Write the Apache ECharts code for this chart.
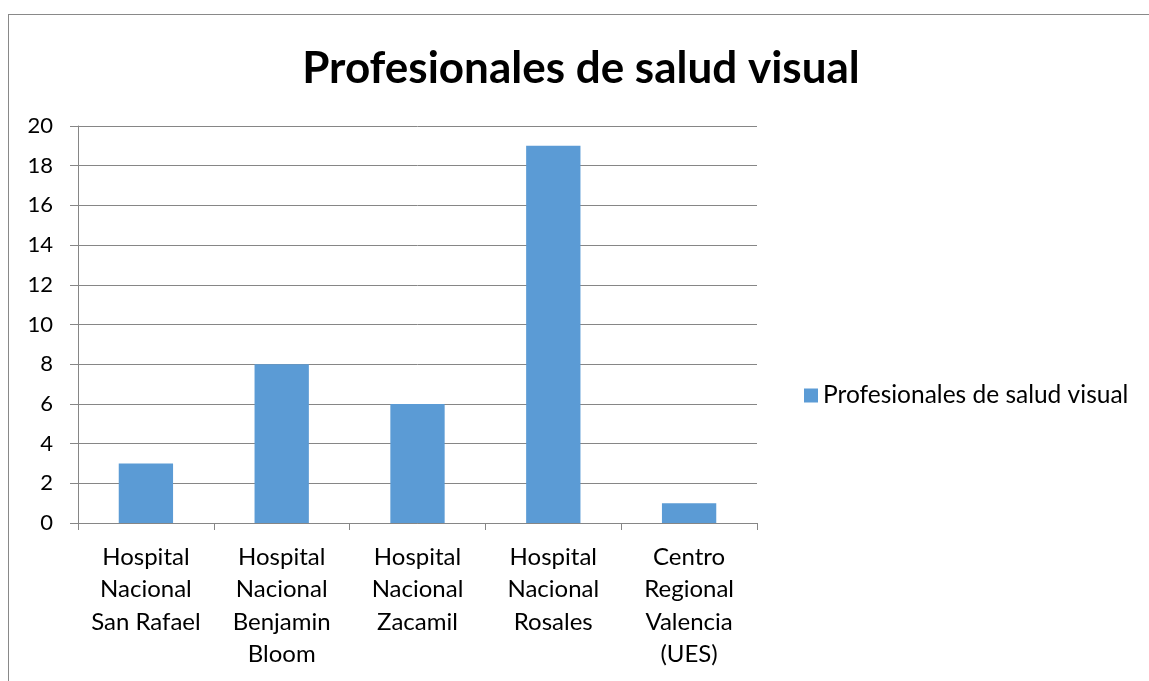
<!DOCTYPE html>
<html>
<head>
<meta charset="utf-8">
<script src="https://cdn.jsdelivr.net/npm/echarts@6/dist/echarts.min.js"></script>
<style>
  html, body { margin: 0; padding: 0; background: #fff; }
  #frame { position: absolute; left: 8px; top: 14px; width: 1200px; height: 700px; border: 1px solid #898989; box-sizing: border-box; }
  #chart { position: absolute; left: 0; top: 0; width: 1149px; height: 681px; }
</style>
</head>
<body>
<div id="frame"></div>
<div id="chart"></div>
<script>
// datos del grafico
const categories = [
    'Hospital\nNacional\nSan Rafael',
    'Hospital\nNacional\nBenjamin\nBloom',
    'Hospital\nNacional\nZacamil',
    'Hospital\nNacional\nRosales',
    'Centro\nRegional\nValencia\n(UES)'
];
const values = [3, 8, 6, 19, 1];
const seriesName = 'Profesionales de salud visual';
const titleText = 'Profesionales de salud visual';

const fontName = 'Lato, "Noto Sans", sans-serif';
const chart = echarts.init(document.getElementById('chart'));

const options = {
    backgroundColor: 'transparent',
    animation: false,
    title: {
        text: titleText,
        left: 576,
        top: 42,
        textAlign: 'center',
        textStyle: {
            color: '#000',
            fontWeight: 'bold',
            fontSize: 44,
            fontFamily: fontName
        }
    },
    legend: {
        data: [seriesName],
        orient: 'vertical',
        left: 799,
        top: 378,
        itemWidth: 14,
        itemHeight: 14,
        itemGap: 8,
        icon: 'rect',
        textStyle: {
            color: '#000',
            fontSize: 24.5,
            fontFamily: fontName
        }
    },
    grid: {
        left: 78,
        right: 392,
        top: 126,
        bottom: 158,
        containLabel: false
    },
    xAxis: {
        type: 'category',
        data: categories,
        axisLine: { show: true, lineStyle: { color: '#868686', width: 1 } },
        axisTick: { show: true, length: 7, alignWithLabel: false, lineStyle: { color: '#868686' } },
        axisLabel: {
            interval: 0,
            margin: 18,
            color: '#000',
            fontSize: 24,
            lineHeight: 32.5,
            fontFamily: fontName
        },
        splitLine: { show: false }
    },
    yAxis: {
        type: 'value',
        min: 0,
        max: 20,
        interval: 2,
        axisLine: { show: true, lineStyle: { color: '#868686', width: 1 } },
        axisTick: { show: true, length: 8, lineStyle: { color: '#868686' } },
        axisLabel: {
            margin: 25,
            color: '#000',
            fontSize: 22,
            fontFamily: fontName
        },
        splitLine: { show: true, lineStyle: { color: '#868686', width: 1 } }
    },
    series: [{
        name: seriesName,
        type: 'bar',
        data: values,
        barWidth: '40%',
        itemStyle: { color: '#5B9BD5' }
    }]
};
chart.setOption(options);
</script>
</body>
</html>
